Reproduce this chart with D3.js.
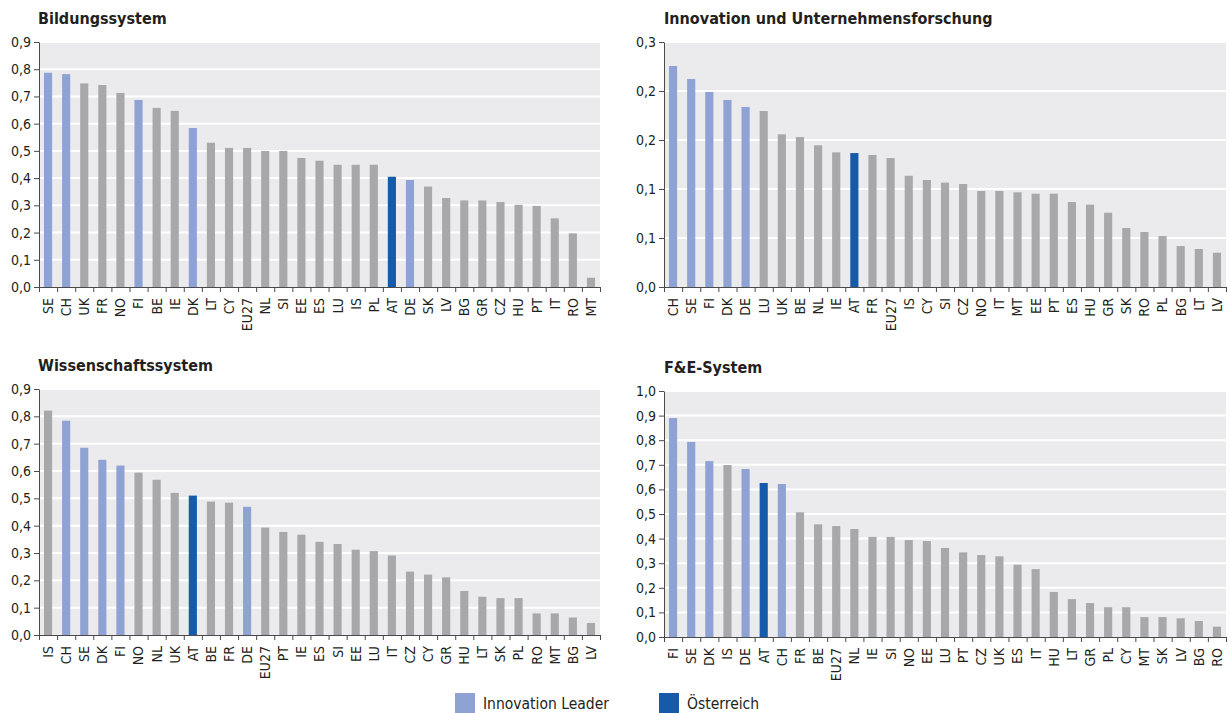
<!DOCTYPE html>
<html>
<head>
<meta charset="utf-8">
<script src="https://cdn.jsdelivr.net/npm/d3@7"></script>
<style>
  body { margin: 0; background: #fff; }
  svg text { font-family: "Liberation Sans Narrow", "DejaVu Sans Condensed", sans-serif; font-stretch: condensed; fill: #231f20; }
</style>
</head>
<body>
<div id="chart"></div>
<script>
// --- data -------------------------------------------------------------
const leaders = ['SE', 'CH', 'FI', 'DK', 'DE']
const austria = 'AT'

const bildungCats = ['SE','CH','UK','FR','NO','FI','BE','IE','DK','LT','CY','EU27','NL','SI','EE','ES','LU','IS','PL','AT','DE','SK','LV','BG','GR','CZ','HU','PT','IT','RO','MT']
const bildungVals = [0.787,0.782,0.748,0.742,0.713,0.687,0.658,0.647,0.584,0.530,0.511,0.511,0.500,0.500,0.474,0.464,0.449,0.449,0.449,0.405,0.393,0.369,0.327,0.318,0.318,0.312,0.302,0.298,0.252,0.197,0.034]

const innoCats = ['CH','SE','FI','DK','DE','LU','UK','BE','NL','IE','AT','FR','EU27','IS','CY','SI','CZ','NO','IT','MT','EE','PT','ES','HU','GR','SK','RO','PL','BG','LT','LV']
const innoVals = [0.2255,0.2122,0.199,0.1908,0.1837,0.1796,0.1558,0.153,0.1446,0.1374,0.1367,0.1347,0.1316,0.1135,0.1092,0.1065,0.1051,0.098,0.098,0.0966,0.0952,0.0952,0.0867,0.084,0.0758,0.0602,0.0561,0.052,0.0418,0.0388,0.035]

const wissCats = ['IS','CH','SE','DK','FI','NO','NL','UK','AT','BE','FR','DE','EU27','PT','IE','ES','SI','EE','LU','IT','CZ','CY','GR','HU','LT','SK','PL','RO','MT','BG','LV']
const wissVals = [0.821,0.784,0.685,0.641,0.620,0.594,0.568,0.520,0.510,0.488,0.484,0.469,0.393,0.377,0.367,0.341,0.333,0.312,0.307,0.291,0.232,0.221,0.211,0.161,0.140,0.135,0.135,0.079,0.079,0.064,0.044]

const fueCats = ['FI','SE','DK','IS','DE','AT','CH','FR','BE','EU27','NL','IE','SI','NO','EE','LU','PT','CZ','UK','ES','IT','HU','LT','GR','PL','CY','MT','SK','LV','BG','RO']
const fueVals = [0.890,0.793,0.715,0.699,0.683,0.626,0.622,0.507,0.458,0.451,0.439,0.407,0.407,0.394,0.390,0.362,0.344,0.333,0.328,0.294,0.276,0.183,0.154,0.138,0.121,0.121,0.081,0.081,0.076,0.065,0.042]

const ticks09 = [0,0.1,0.2,0.3,0.4,0.5,0.6,0.7,0.8,0.9]
const labels09 = ['0,0','0,1','0,2','0,3','0,4','0,5','0,6','0,7','0,8','0,9']
const ticks025 = [0,0.05,0.1,0.15,0.2,0.25]
const labels025 = ['0,0','0,1','0,1','0,2','0,2','0,3']
const ticks10 = [0,0.1,0.2,0.3,0.4,0.5,0.6,0.7,0.8,0.9,1.0]
const labels10 = ['0,0','0,1','0,2','0,3','0,4','0,5','0,6','0,7','0,8','0,9','1,0']

const legendItems = ['Innovation Leader', 'Österreich']

// --- style ------------------------------------------------------------
const colLeader = '#8fa2d4', colAT = '#165baa', colOther = '#a7a8aa'
const colBg = '#ebebee', colAxis = '#4a4a4a'

const width = 1230, height = 713

let svg = d3.select('#chart')
            .append('svg')
            .attr('width', width)
            .attr('height', height)

function barColor(c) {
  if (c === austria) return colAT
  if (leaders.includes(c)) return colLeader
  return colOther }

function panel(opts) {
  let g = svg.append('g')
  let x = d3.scaleBand()
            .domain(opts.cats)
            .range([opts.x0, opts.x1])
            .paddingInner(0.55)
            .paddingOuter(0.275)
  let y = d3.scaleLinear()
            .domain([0, opts.max])
            .range([opts.y0, opts.y1])

  g.append('text')
    .attr('x', opts.titleX)
    .attr('y', opts.titleY)
    .attr('font-size', 16)
    .attr('font-weight', 'bold')
    .text(opts.title)

  g.append('rect')
    .attr('x', opts.x0).attr('y', opts.y1)
    .attr('width', opts.x1 - opts.x0).attr('height', opts.y0 - opts.y1)
    .attr('fill', colBg)

  g.selectAll('line.grid').data(opts.ticks.slice(1))
    .enter().append('line')
      .attr('class', 'grid')
      .attr('x1', opts.x0).attr('x2', opts.x1)
      .attr('y1', d => y(d)).attr('y2', d => y(d))
      .attr('stroke', '#fff').attr('stroke-width', 2)

  g.selectAll('rect.bar').data(opts.cats)
    .enter().append('rect')
      .attr('class', 'bar')
      .attr('x', d => x(d))
      .attr('width', x.bandwidth())
      .attr('y', (d, i) => y(opts.vals[i]))
      .attr('height', (d, i) => opts.y0 - y(opts.vals[i]))
      .attr('fill', barColor)

  // y axis
  let ya = g.append('g')
    .attr('transform', `translate(${opts.x0},0)`)
    .call(d3.axisLeft(y).tickValues(opts.ticks)
            .tickFormat((d, i) => opts.labels[i])
            .tickSize(5).tickSizeOuter(0).tickPadding(3))
  ya.selectAll('text').attr('font-size', 14).attr('fill', '#231f20')
  ya.selectAll('line, path').attr('stroke', colAxis)

  // x axis: boundary ticks
  let bx = d3.scaleLinear().domain([0, opts.cats.length]).range([opts.x0, opts.x1])
  let xa = g.append('g')
    .attr('transform', `translate(0,${opts.y0})`)
    .call(d3.axisBottom(bx).tickValues(d3.range(opts.cats.length + 1))
            .tickFormat('').tickSize(5).tickSizeOuter(0))
  xa.selectAll('line, path').attr('stroke', colAxis)

  // x axis labels
  let xl = g.append('g')
    .attr('transform', `translate(0,${opts.y0})`)
    .call(d3.axisBottom(x).tickSize(0).tickPadding(0))
  xl.select('.domain').remove()
  xl.selectAll('text')
    .attr('font-size', 14)
    .attr('fill', '#231f20')
    .attr('transform', 'rotate(-90)')
    .attr('text-anchor', 'end')
    .attr('x', -11)
    .attr('y', 0)
    .attr('dy', '0.35em')
}

panel({ title: 'Bildungssystem', cats: bildungCats, vals: bildungVals, max: 0.9,
        ticks: ticks09, labels: labels09, x0: 39, x1: 600, y0: 287, y1: 42, titleX: 38, titleY: 24 })
panel({ title: 'Innovation und Unternehmensforschung', cats: innoCats, vals: innoVals, max: 0.25,
        ticks: ticks025, labels: labels025, x0: 664, x1: 1226, y0: 287, y1: 42, titleX: 664, titleY: 24 })
panel({ title: 'Wissenschaftssystem', cats: wissCats, vals: wissVals, max: 0.9,
        ticks: ticks09, labels: labels09, x0: 39, x1: 600, y0: 635, y1: 389, titleX: 38, titleY: 371 })
panel({ title: 'F&E-System', cats: fueCats, vals: fueVals, max: 1.0,
        ticks: ticks10, labels: labels10, x0: 664, x1: 1226, y0: 637, y1: 391, titleX: 664, titleY: 373 })

// legend
let legend = svg.append('g')
legend.selectAll('rect').data(legendItems)
  .enter().append('rect')
    .attr('x', (d, i) => [455, 659][i])
    .attr('y', 693)
    .attr('width', 20).attr('height', 20)
    .attr('fill', (d, i) => [colLeader, colAT][i])
legend.selectAll('text').data(legendItems)
  .enter().append('text')
    .attr('x', (d, i) => [483, 687][i])
    .attr('y', 709)
    .attr('font-size', 15.5)
    .text(d => d)
</script>
</body>
</html>
